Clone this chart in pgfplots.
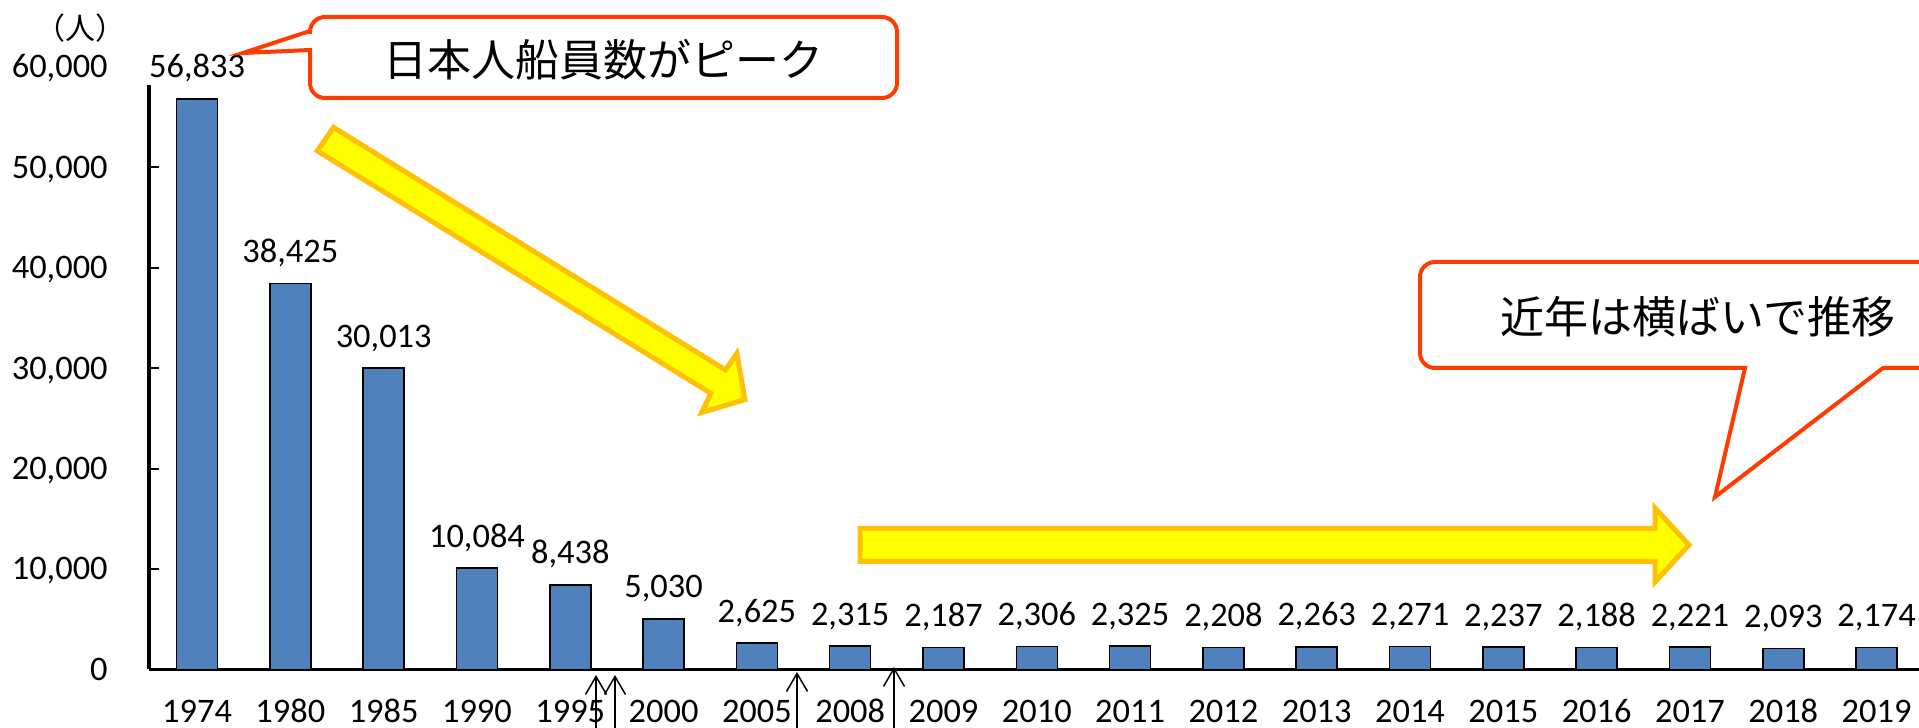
\documentclass[border=0pt]{standalone}
\usepackage{fontspec}
\setmainfont{Carlito}
\newfontfamily\jp{Noto Sans CJK JP}
\usepackage{pgfplots}
\pgfplotsset{compat=1.18}
\usetikzlibrary{arrows.meta}
\definecolor{barblue}{HTML}{4F81BD}
\definecolor{calloutred}{HTML}{FF3C00}
\definecolor{arrowfill}{HTML}{FFFF00}
\definecolor{arrowedge}{HTML}{FFC000}
\newcommand\numfont{\fontsize{17.2}{20}\selectfont}
\pgfplotsset{/pgf/number format/.cd, fixed, precision=0, 1000 sep={,}, assume math mode=true}
\begin{document}
\begin{tikzpicture}
\path[use as bounding box] (0,0) rectangle (959.5pt,364pt);
\begin{axis}[
  at={(74.5pt,29.25pt)}, anchor=south west,
  scale only axis, width=885pt, height=301.25pt,
  xmin=-0.515, xmax=18.455, ymin=0, ymax=60000,
  axis x line*=bottom, axis y line*=left,
  axis line style={-, line width=1.65pt, black},
  ybar, bar width=20.5pt,
  clip=false,
  xtick={0,...,18},
  xticklabels={1974,1980,1985,1990,1995,2000,2005,2008,2009,2010,2011,2012,2013,2014,2015,2016,2017,2018,2019},
  xtick style={draw=none},
  ytick={0,10000,20000,30000,40000,50000,60000},
  scaled y ticks=false,
  ytick style={line width=1pt, black},
  tick align=inside, major tick length=5pt,
  yticklabel style={font=\numfont, anchor=base east, inner sep=0pt, xshift=-20.5pt, yshift=-5.4pt},
  xticklabel style={font=\numfont, anchor=base, inner sep=0pt, yshift=-26.75pt},
  nodes near coords,
  every node near coord/.append style={font=\numfont, anchor=base, yshift=10.5pt, inner sep=1.5pt, fill=white, text=black},
]
\addplot[fill=barblue, draw=black, line width=0.8pt] coordinates {
(0,56833) (1,38425) (2,30013) (3,10084) (4,8438) (5,5030) (6,2625) (7,2315) (8,2187) (9,2306)
(10,2325) (11,2208) (12,2263) (13,2271) (14,2237) (15,2188) (16,2221) (17,2093) (18,2174)};
\end{axis}
\begin{scope}[x=0.5pt,y=-0.5pt,shift={(0pt,364pt)}]
% unit label
\node[font=\jp\fontsize{15}{17}\selectfont, inner sep=0pt] at (80.5,28) {（人）};
% callout 1
\draw[calloutred, line width=2pt, fill=white, line join=miter]
  (310,50) -- (310,83) arc[start angle=180, end angle=90, radius=15]
  -- (882,98) arc[start angle=90, end angle=0, radius=15]
  -- (897,32) arc[start angle=0, end angle=-90, radius=15]
  -- (325,17) arc[start angle=270, end angle=180, radius=15]
  -- (307,32) -- (243,53) -- cycle;
\node[font=\jp\fontsize{22}{26}\selectfont, inner sep=0pt] at (603.5,60) {日本人船員数がピーク};
% callout 2
\draw[calloutred, line width=2pt, fill=white, line join=miter]
  (1745,368) -- (1715,497) -- (1883,368) -- (1970,368) -- (1970,262)
  -- (1435,262) arc[start angle=270, end angle=180, radius=15]
  -- (1420,353) arc[start angle=180, end angle=90, radius=15]
  -- cycle;
\node[font=\jp\fontsize{22}{26}\selectfont, inner sep=0pt] at (1698,317) {近年は横ばいで推移};
% yellow arrows
\draw[fill=arrowfill, draw=arrowedge, line width=2.5pt, line join=miter]
  (333.5,127.4) -- (725.5,370) -- (736.8,353.4) -- (744.9,399.6) -- (701.7,412.5) -- (710.9,393.3) -- (317.4,150.9) -- cycle;
\draw[fill=arrowfill, draw=arrowedge, line width=2.5pt, line join=miter]
  (860,528.5) -- (1655,528.5) -- (1655,508) -- (1689,545) -- (1655,582) -- (1655,561.5) -- (860,561.5) -- cycle;
% axis break markers
\foreach \xx/\yy in {596/675, 615/675, 797/672, 894/667}
  \draw[line width=0.75pt, -{Straight Barb[length=9pt, width=10.5pt]}] (\xx,745) -- (\xx,\yy);
\end{scope}
\end{tikzpicture}
\end{document}
